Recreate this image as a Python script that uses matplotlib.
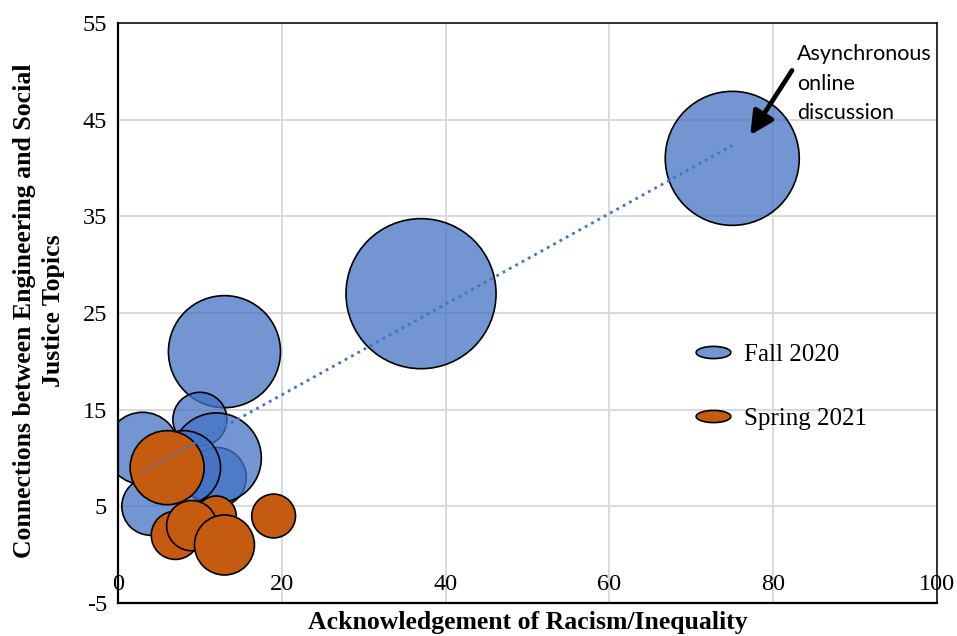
import numpy as np
import matplotlib
matplotlib.use("Agg")
import matplotlib.pyplot as plt
from matplotlib.path import Path
from matplotlib.lines import Line2D

plt.rcParams["axes.unicode_minus"] = False

# Fall 2020 sections: acknowledgement score, connection score, bubble size
fall_x = [75, 37, 13, 10, 3, 12, 12, 8, 4]
fall_y = [41, 27, 21, 14, 11, 8, 10, 9, 5]
fall_size = [44.9, 56.3, 31.4, 7.3, 13.0, 9.0, 20.3, 13.7, 8.4]

# Spring 2021 sections
spring_x = [6, 12, 7, 9, 13, 19]
spring_y = [9, 4, 2, 3, 1, 4]
spring_size = [13.7, 4.0, 5.8, 6.3, 9.0, 4.8]

x_ticks = [0, 20, 40, 60, 80, 100]
y_ticks = [-5, 5, 15, 25, 35, 45, 55]

series_labels = ["Fall 2020", "Spring 2021"]
note_text = "Asynchronous\nonline\ndiscussion"
x_title = "Acknowledgement of Racism/Inequality"
y_title = "Connections between Engineering and Social\nJustice Topics"

BLUE_FACE = (68 / 255, 114 / 255, 196 / 255, 0.75)
BLUE_LINE = "#4472C4"
ORANGE = "#C55A11"
GRID = "#D9D9D9"
SERIF = "Liberation Serif"

SIZE_SCALE = 207.36  # bubble size value -> marker area in pt^2

fig = plt.figure(figsize=(9.57, 6.36), dpi=100)
ax = fig.add_axes([0.1233, 0.0519, 0.9791 - 0.1233, 0.9638 - 0.0519])

ax.set_xlim(0, 100)
ax.set_ylim(-5, 55)
ax.set_xticks(x_ticks)
ax.set_yticks(y_ticks)
ax.grid(True, color=GRID, lw=1.4, zorder=0)
ax.set_axisbelow(True)

for side in ["top", "right"]:
    ax.spines[side].set_linewidth(1.1)
for side in ["left", "bottom"]:
    ax.spines[side].set_linewidth(1.6)
for sp in ax.spines.values():
    sp.set_color("black")
    sp.set_zorder(5)

ax.tick_params(axis="both", length=0, labelsize=17.5)
ax.tick_params(axis="x", pad=-21)
ax.tick_params(axis="y", pad=8)
for lab in ax.get_xticklabels() + ax.get_yticklabels():
    lab.set_fontfamily(SERIF)

# bubbles
ax.scatter(fall_x, fall_y, s=np.array(fall_size) * SIZE_SCALE,
           facecolor=BLUE_FACE, edgecolor="black", linewidth=1.2, zorder=2)
ax.scatter(spring_x, spring_y, s=np.array(spring_size) * SIZE_SCALE,
           facecolor=ORANGE, edgecolor="black", linewidth=1.2, zorder=3)

# linear trend of the Fall 2020 series
slope, intercept = np.polyfit(fall_x, fall_y, 1)
tx = np.array([min(fall_x), max(fall_x)])
ax.plot(tx, slope * tx + intercept, color=BLUE_LINE, lw=2.0,
        linestyle=(0, (1, 1.6)), zorder=4)

# note with arrow pointing at the largest Fall 2020 bubble
ax.text(82.9, 52.8, note_text, ha="left", va="top", fontsize=15.5,
        family="Lato", linespacing=1.58, zorder=6)
ax.annotate("", xy=(77.2, 43.4), xytext=(82.3, 50.1),
            arrowprops=dict(arrowstyle="-|>,head_length=1.0,head_width=0.5",
                            lw=3.4, color="black", mutation_scale=14,
                            shrinkA=0, shrinkB=0), zorder=6)

# legend with oval markers
t = np.linspace(0, 2 * np.pi, 60)
oval = Path(np.column_stack([np.cos(t), 0.35 * np.sin(t)]))
handles = [
    Line2D([], [], marker=oval, markersize=25, linestyle="none",
           markerfacecolor=BLUE_FACE, markeredgecolor="black", markeredgewidth=1.2),
    Line2D([], [], marker=oval, markersize=25, linestyle="none",
           markerfacecolor=ORANGE, markeredgecolor="black", markeredgewidth=1.2),
]
leg = ax.legend(handles, series_labels, loc="upper left",
                bbox_to_anchor=(0.674, 0.486), frameon=False,
                prop={"family": SERIF, "size": 18}, labelspacing=1.64,
                handletextpad=0.45, handlelength=1.6)

# axis titles
fig.text(0.5512, 1 - 622 / 636, x_title, ha="center", va="center",
         fontsize=18.5, fontweight="bold", family=SERIF)
fig.text(39 / 957, 1 - 311 / 636, y_title, ha="center", va="center",
         rotation=90, fontsize=18.5, fontweight="bold", family=SERIF,
         multialignment="center", linespacing=1.3)

fig.savefig("out.png", dpi=100)
